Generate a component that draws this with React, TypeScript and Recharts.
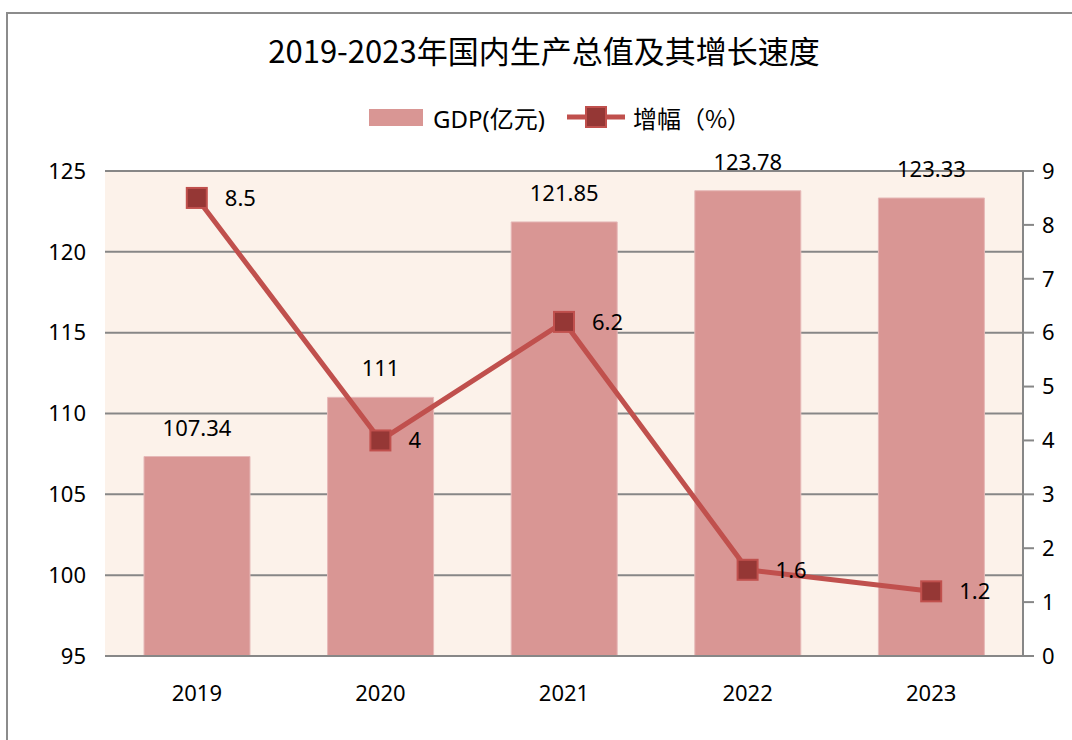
import {
  ComposedChart,
  Bar,
  Line,
  XAxis,
  YAxis,
  CartesianGrid,
  Legend,
  LabelList,
} from 'recharts';

const years = ['2019', '2020', '2021', '2022', '2023'];
const gdp = [107.34, 111, 121.85, 123.78, 123.33];
const growth = [8.5, 4, 6.2, 1.6, 1.2];
const leftTicks = [95, 100, 105, 110, 115, 120, 125];
const rightTicks = [0, 1, 2, 3, 4, 5, 6, 7, 8, 9];

const data = years.map((year, i) => ({ year, gdp: gdp[i], growth: growth[i] }));

const FONT = "'Noto Sans', 'Noto Sans CJK SC', sans-serif";
const GRAY = '#878787';

const SquareDot = (props: any) => {
  const { cx, cy } = props;
  if (cx == null || cy == null) return null;
  return <rect x={cx - 10} y={cy - 10} width={20} height={20} fill="#953735" stroke="#C0504D" strokeWidth={2} />;
};

const LegendBox = () => (
  <div style={{ display: 'flex', alignItems: 'center', height: 40, paddingLeft: 369, fontSize: 24, color: '#000' }}>
    <span style={{ display: 'inline-block', width: 54, height: 17, background: '#D99694' }} />
    <span style={{ marginLeft: 10 }}>GDP(亿元)</span>
    <svg width={58} height={24} style={{ marginLeft: 22 }}>
      <line x1={0} y1={12} x2={58} y2={12} stroke="#C0504D" strokeWidth={5} strokeLinecap="round" />
      <rect x={19} y={2} width={20} height={20} fill="#953735" stroke="#C0504D" strokeWidth={2} />
    </svg>
    <span style={{ marginLeft: 8, fontFamily: "'Noto Sans CJK SC', sans-serif" }}>增幅（%）</span>
  </div>
);

export default function App() {
  return (
    <div style={{ position: 'relative', width: 1072, height: 740, overflow: 'hidden', background: '#fff', fontFamily: FONT }}>
      <style>{'body{margin:0;overflow:hidden}'}</style>
      <div
        style={{
          position: 'absolute',
          left: 6,
          top: 12,
          width: 1200,
          height: 900,
          border: '2px solid #8c8c8c',
          boxSizing: 'border-box',
        }}
      />
      <div
        style={{
          position: 'absolute',
          top: 30,
          left: 0,
          width: 1072,
          paddingLeft: 16,
          boxSizing: 'border-box',
          textAlign: 'center',
          fontSize: 31,
          fontFamily: "'Noto Sans CJK SC', sans-serif",
          color: '#000',
          lineHeight: '40px',
        }}
      >
        2019-2023年国内生产总值及其增长速度
      </div>
      <ComposedChart
        width={1072}
        height={740}
        data={data}
        margin={{ top: 131, right: 0, bottom: 44, left: 0 }}
        style={{ position: 'absolute', left: 0, top: 0 }}
      >
        <CartesianGrid yAxisId="left" vertical={false} stroke={GRAY} strokeWidth={2} fill="#FCF2EA" fillOpacity={1} />
        <Legend verticalAlign="top" content={<LegendBox />} wrapperStyle={{ top: 97, left: 0, width: 1072 }} />
        <XAxis
          dataKey="year"
          axisLine={{ stroke: GRAY, strokeWidth: 2 }}
          tickLine={false}
          tickSize={0}
          tickMargin={29}
          height={40}
          tick={{ fontSize: 22, fill: '#000' }}
        />
        <YAxis
          yAxisId="left"
          orientation="left"
          domain={[95, 125]}
          ticks={leftTicks}
          allowDataOverflow
          axisLine={false}
          tickLine={false}
          tickSize={6}
          tickMargin={13}
          width={105}
          tick={{ fontSize: 22, fill: '#000' }}
        />
        <YAxis
          yAxisId="right"
          orientation="right"
          domain={[0, 9]}
          ticks={rightTicks}
          axisLine={{ stroke: GRAY, strokeWidth: 2 }}
          tickLine={{ stroke: GRAY, strokeWidth: 2 }}
          tickSize={11}
          tickMargin={8}
          width={49}
          tick={{ fontSize: 22, fill: '#000' }}
        />
        <Bar
          yAxisId="left"
          dataKey="gdp"
          name="GDP(亿元)"
          barSize={106}
          fill="#D99694"
          stroke="#E6B9B8"
          strokeWidth={1}
          isAnimationActive={false}
        >
          <LabelList dataKey="gdp" position="top" offset={21} fill="#000" fontSize={22} />
        </Bar>
        <Line
          yAxisId="right"
          dataKey="growth"
          name="增幅（%）"
          stroke="#C0504D"
          strokeWidth={5}
          dot={<SquareDot />}
          activeDot={false}
          isAnimationActive={false}
        >
          <LabelList dataKey="growth" position="right" offset={28} fill="#000" fontSize={22} />
        </Line>
      </ComposedChart>
    </div>
  );
}
